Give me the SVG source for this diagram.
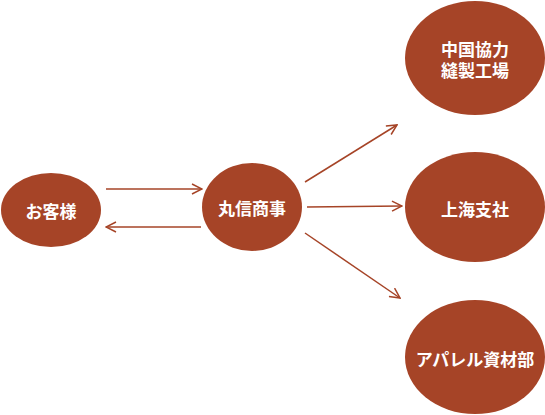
<svg xmlns="http://www.w3.org/2000/svg" width="545" height="415" viewBox="0 0 545 415">
<defs>
<style>
.node ellipse{fill:#A64427;}
.node text{fill:#fff;font-family:"Noto Sans CJK JP","Noto Sans",sans-serif;font-weight:bold;font-size:17px;text-anchor:middle;dominant-baseline:central;}
.conn line{stroke:#A64427;stroke-width:1.5;fill:none;marker-end:url(#arr);}
</style>
<marker id="arr" viewBox="0 0 12 12" refX="11" refY="6" markerWidth="12" markerHeight="12" markerUnits="userSpaceOnUse" orient="auto">
<path d="M1,1 L11,6 L1,11" fill="none" stroke="#A64427" stroke-width="1.5"/>
</marker>
</defs>
<rect width="545" height="415" fill="#fff"/>
<g id="connectors" class="conn">
<line x1="106" y1="189" x2="202" y2="189"/>
<line x1="201" y1="227" x2="106" y2="227"/>
<line x1="305" y1="182" x2="397" y2="125"/>
<line x1="307" y1="207" x2="402" y2="206"/>
<line x1="305" y1="233" x2="400" y2="298"/>
</g>
<g id="okyakusama" class="node">
<ellipse cx="51" cy="210" rx="50" ry="37"/>
<text x="51" y="210">お客様</text>
</g>
<g id="marushin" class="node">
<ellipse cx="252" cy="207" rx="50" ry="44"/>
<text x="252" y="207">丸信商事</text>
</g>
<g id="china" class="node">
<ellipse cx="475" cy="58" rx="70" ry="57"/>
<text x="475" y="48">中国協力<tspan x="475" dy="21">縫製工場</tspan></text>
</g>
<g id="shanghai" class="node">
<ellipse cx="475" cy="207" rx="70" ry="55"/>
<text x="475" y="208">上海支社</text>
</g>
<g id="apparel" class="node">
<ellipse cx="475" cy="357" rx="70" ry="57"/>
<text x="475" y="358">アパレル資材部</text>
</g>
</svg>
